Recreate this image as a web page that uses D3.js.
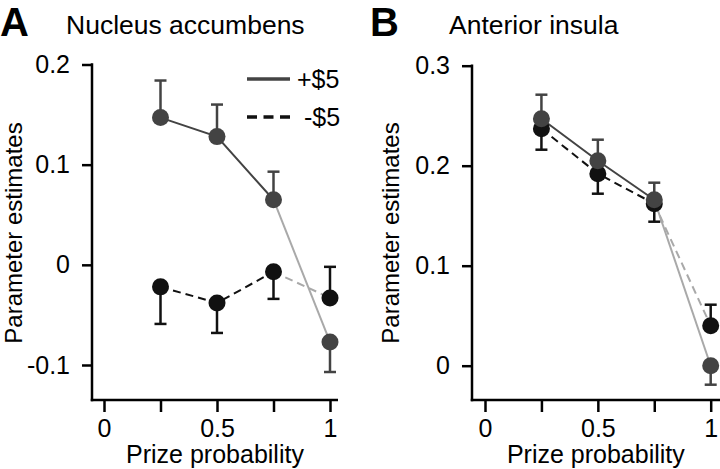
<!DOCTYPE html>
<html>
<head>
<meta charset="utf-8">
<script src="https://cdn.jsdelivr.net/npm/d3@7"></script>
<style>
  html, body { margin: 0; padding: 0; background: #fff; }
  svg { display: block; font-family: "Liberation Sans", Arial, Helvetica, sans-serif; }
</style>
</head>
<body>
<svg id="chart" width="720" height="469"></svg>
<script>
// ---------------- data ----------------
const probs = [0.25, 0.5, 0.75, 1];
const xTickValues = [0, 0.25, 0.5, 0.75, 1];
const xTickLabels = ["0", "", "0.5", "", "1"];

const naccGain = [0.147, 0.128, 0.065, -0.077];
const naccGainErr = [0.037, 0.032, 0.028, 0.030];
const naccLoss = [-0.022, -0.038, -0.007, -0.033];
const naccLossErr = [0.037, 0.030, 0.027, 0.031];
const naccYTicks = [-0.1, 0, 0.1, 0.2];
const naccYTickLabels = ["-0.1", "0", "0.1", "0.2"];

const insGain = [0.247, 0.205, 0.166, 0.000];
const insGainErr = [0.024, 0.021, 0.017, 0.019];
const insLoss = [0.237, 0.192, 0.162, 0.040];
const insLossErr = [0.021, 0.020, 0.018, 0.021];
const insYTicks = [0, 0.1, 0.2, 0.3];
const insYTickLabels = ["0", "0.1", "0.2", "0.3"];

const panelLetters = ["A", "B"];
const panelTitles = ["Nucleus accumbens", "Anterior insula"];
const legendLabels = ["+$5", "-$5"];
const xLabel = "Prize probability";
const yLabel = "Parameter estimates";

// ---------------- style ----------------
const GAIN = "#434343", LOSS = "#111111", LIGHT = "#a9a9a9";
const svg = d3.select("#chart");

function panel(cfg) {
  const g = svg.append("g");
  const x = d3.scaleLinear().domain([0, 1]).range(cfg.xRange);
  const y = d3.scaleLinear().domain(cfg.yDomain).range(cfg.yRange);
  const axisY = 400;

  // letter + title
  g.append("text").attr("x", cfg.letterX).attr("y", 36)
    .attr("font-size", 40).attr("font-weight", "bold").text(cfg.letter);
  g.append("text").attr("x", cfg.titleX).attr("y", 34)
    .attr("font-size", 26.5).text(cfg.title);

  // y axis
  const ya = g.append("g").attr("transform", `translate(${cfg.yAxisX},0)`)
    .call(d3.axisLeft(y).tickValues(cfg.yTicks)
      .tickFormat((d, i) => cfg.yTickLabels[i]).tickSize(10).tickPadding(12));
  ya.select(".domain").remove();
  ya.selectAll(".tick line").attr("stroke", "#000").attr("stroke-width", 2.5);
  ya.selectAll(".tick text").attr("font-size", 25).attr("font-family", null).attr("fill", "#000");
  g.append("line").attr("x1", cfg.yAxisX).attr("x2", cfg.yAxisX)
    .attr("y1", y(cfg.yTicks[cfg.yTicks.length - 1]) - 1.25).attr("y2", axisY + 1.25)
    .attr("stroke", "#000").attr("stroke-width", 2.5);

  // x axis
  const xa = g.append("g").attr("transform", `translate(0,${axisY})`)
    .call(d3.axisBottom(x).tickValues(xTickValues)
      .tickFormat((d, i) => xTickLabels[i]).tickSize(12).tickPadding(7));
  xa.select(".domain").remove();
  xa.selectAll(".tick line").attr("stroke", "#000").attr("stroke-width", 2.5);
  xa.selectAll(".tick text").attr("font-size", 25).attr("font-family", null).attr("fill", "#000");
  g.append("line").attr("x1", cfg.yAxisX - 1.25).attr("x2", cfg.xAxisEnd)
    .attr("y1", axisY).attr("y2", axisY)
    .attr("stroke", "#000").attr("stroke-width", 2.5);

  // axis labels
  g.append("text").attr("x", x(0.5) - 2).attr("y", 463)
    .attr("text-anchor", "middle").attr("font-size", 25).text(xLabel);
  g.append("text")
    .attr("transform", `translate(${cfg.yLabelX},233) rotate(-90)`)
    .attr("text-anchor", "middle").attr("font-size", 24).text(yLabel);

  const gainPts = probs.map((p, i) => ({ p, v: cfg.gain[i], e: cfg.gainErr[i], o: cfg.loss[i] }));
  const lossPts = probs.map((p, i) => ({ p, v: cfg.loss[i], e: cfg.lossErr[i], o: cfg.gain[i] }));
  const line = d3.line().x(d => x(d.p)).y(d => y(d.v));

  // lines: dark segments for first three, light last segment
  [[lossPts, LOSS, "8,5"], [gainPts, GAIN, null]].forEach(([pts, col, dash]) => {
    g.append("path").attr("d", line(pts.slice(2, 4))).attr("fill", "none")
      .attr("stroke", LIGHT).attr("stroke-width", 2).attr("stroke-dasharray", dash);
    g.append("path").attr("d", line(pts.slice(0, 3))).attr("fill", "none")
      .attr("stroke", col).attr("stroke-width", 2).attr("stroke-dasharray", dash);
  });

  // error bars + circles (loss under gain)
  [[lossPts, LOSS], [gainPts, GAIN]].forEach(([pts, col]) => {
    const eb = g.append("g");
    pts.forEach(d => {
      const dir = d.v >= d.o ? 1 : -1;
      const end = d.v + dir * d.e;
      eb.append("line").attr("x1", x(d.p)).attr("x2", x(d.p))
        .attr("y1", y(d.v)).attr("y2", y(end))
        .attr("stroke", col).attr("stroke-width", 2.5);
      eb.append("line").attr("x1", x(d.p) - 6).attr("x2", x(d.p) + 6)
        .attr("y1", y(end)).attr("y2", y(end))
        .attr("stroke", col).attr("stroke-width", 2.5);
    });
    g.append("g").selectAll("circle").data(pts).join("circle")
      .attr("cx", d => x(d.p)).attr("cy", d => y(d.v)).attr("r", 8.5)
      .attr("fill", col);
  });

  return g;
}

panel({
  letter: panelLetters[0], title: panelTitles[0], letterX: 0, titleX: 66,
  xRange: [104, 330], yDomain: [-0.1, 0.2], yRange: [365, 64.5],
  yAxisX: 92, xAxisEnd: 338, yLabelX: 22,
  yTicks: naccYTicks, yTickLabels: naccYTickLabels,
  gain: naccGain, gainErr: naccGainErr, loss: naccLoss, lossErr: naccLossErr
});
panel({
  letter: panelLetters[1], title: panelTitles[1], letterX: 370, titleX: 449,
  xRange: [485, 710.7], yDomain: [0, 0.3], yRange: [365.7, 65.7],
  yAxisX: 472, xAxisEnd: 720, yLabelX: 399,
  yTicks: insYTicks, yTickLabels: insYTickLabels,
  gain: insGain, gainErr: insGainErr, loss: insLoss, lossErr: insLossErr
});

// legend (panel A)
const leg = svg.append("g");
leg.append("line").attr("x1", 247).attr("x2", 290).attr("y1", 79).attr("y2", 79)
  .attr("stroke", GAIN).attr("stroke-width", 3.5);
leg.append("text").attr("x", 297).attr("y", 88).attr("font-size", 25).text(legendLabels[0]);
leg.append("line").attr("x1", 247).attr("x2", 290).attr("y1", 117).attr("y2", 117)
  .attr("stroke", LOSS).attr("stroke-width", 3.5).attr("stroke-dasharray", "10,6.5");
leg.append("text").attr("x", 304).attr("y", 126).attr("font-size", 25).text(legendLabels[1]);
</script>
</body>
</html>
